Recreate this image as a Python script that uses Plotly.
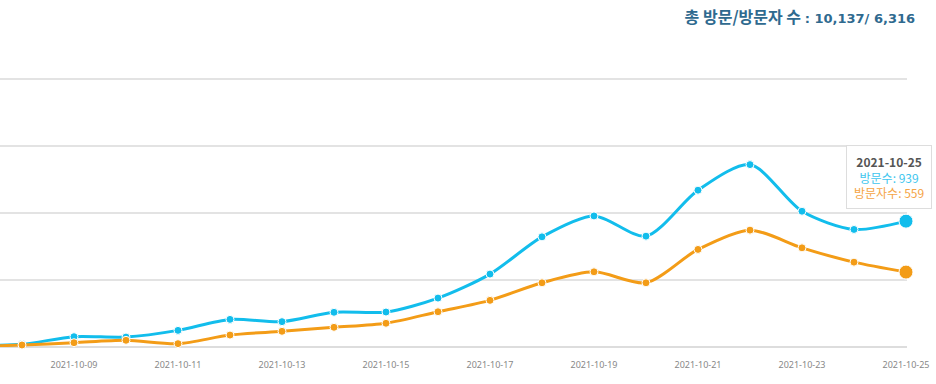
import plotly.graph_objects as go

dates = ["2021-10-07", "2021-10-08", "2021-10-09", "2021-10-10", "2021-10-11", "2021-10-12",
         "2021-10-13", "2021-10-14", "2021-10-15", "2021-10-16", "2021-10-17", "2021-10-18",
         "2021-10-19", "2021-10-20", "2021-10-21", "2021-10-22", "2021-10-23", "2021-10-24",
         "2021-10-25"]
visits = [12, 20, 77, 74, 124, 206, 189, 259, 261, 365, 544, 822, 978, 827, 1170, 1361, 1013, 877, 939]
visitors = [2, 15, 32, 50, 25, 89, 117, 147, 177, 263, 348, 479, 561, 479, 728, 872, 740, 633, 559]
total_visits = "10,137"
total_visitors = "6,316"

BLUE = "#12bdec"
ORANGE = "#f39c17"

fig = go.Figure()
fig.add_trace(go.Scatter(
    x=dates, y=visits, mode="lines+markers", name="방문수",
    line=dict(color=BLUE, width=3, shape="spline", smoothing=0.8),
    marker=dict(size=8, color=BLUE, line=dict(color="white", width=1)),
    cliponaxis=False,
))
fig.add_trace(go.Scatter(
    x=dates, y=visitors, mode="lines+markers", name="방문자수",
    line=dict(color=ORANGE, width=3, shape="spline", smoothing=0.8),
    marker=dict(size=8, color=ORANGE, line=dict(color="white", width=1)),
    cliponaxis=False,
))
# hover-state markers on last point
fig.add_trace(go.Scatter(
    x=[dates[-1], dates[-1]], y=[visits[-1], visitors[-1]], mode="markers",
    marker=dict(size=14, color=[BLUE, ORANGE], line=dict(color="white", width=1)),
    cliponaxis=False, hoverinfo="skip",
))

fig.add_annotation(
    x=dates[-1], y=visits[-1], xref="x", yref="y",
    text=(f"<b>{dates[-1]}</b><br>"
          f"<span style='color:#3ec6ee'>방문수: {visits[-1]}</span><br>"
          f"<span style='color:#f5a445'>방문자수: {visitors[-1]}</span>"),
    showarrow=True, arrowcolor="rgba(0,0,0,0)", arrowwidth=0.1,
    ax=-17, ay=-44, xanchor="center", yanchor="middle",
    align="center",
    font=dict(family="Noto Sans CJK KR, sans-serif", size=12, color="#555555"),
    bgcolor="rgba(255,255,255,0.95)", bordercolor="#dddddd", borderwidth=1, borderpad=7,
)

fig.update_layout(
    width=936, height=384,
    margin=dict(l=0, r=29, t=74, b=37),
    paper_bgcolor="white", plot_bgcolor="white",
    showlegend=False,
    title=dict(
        text=("<span style='font-family:Noto Sans CJK KR;font-size:16px'><b>총 방문/방문자 수 </b></span>"
              f"<b>: {total_visits}/ {total_visitors}</b>"),
        xref="container", x=0.9776, xanchor="right",
        yref="container", y=0.953, yanchor="middle",
        font=dict(family="DejaVu Sans, Verdana, sans-serif", size=13, color="#2f6a8f"),
    ),
    xaxis=dict(
        type="date",
        range=["2021-10-07 13:51", "2021-10-25 00:28"],
        tick0="2021-10-09", dtick=2 * 86400000, tickformat="%Y-%m-%d",
        showgrid=False, zeroline=False, showline=False,
        ticks="", ticklen=0, ticklabelstandoff=11,
        tickfont=dict(family="Noto Sans, sans-serif", size=9, color="#888888"),
    ),
    yaxis=dict(
        range=[0, 2037], tickvals=[0, 500, 1000, 1500, 2000], showticklabels=False,
        showgrid=True, gridcolor="#e3e3e3", gridwidth=1.5,
        zeroline=True, zerolinecolor="#dddddd", zerolinewidth=2,
        fixedrange=True,
    ),
)

fig.write_html("out.html", config={"displayModeBar": False},
               post_script="document.body.style.margin='0';")
